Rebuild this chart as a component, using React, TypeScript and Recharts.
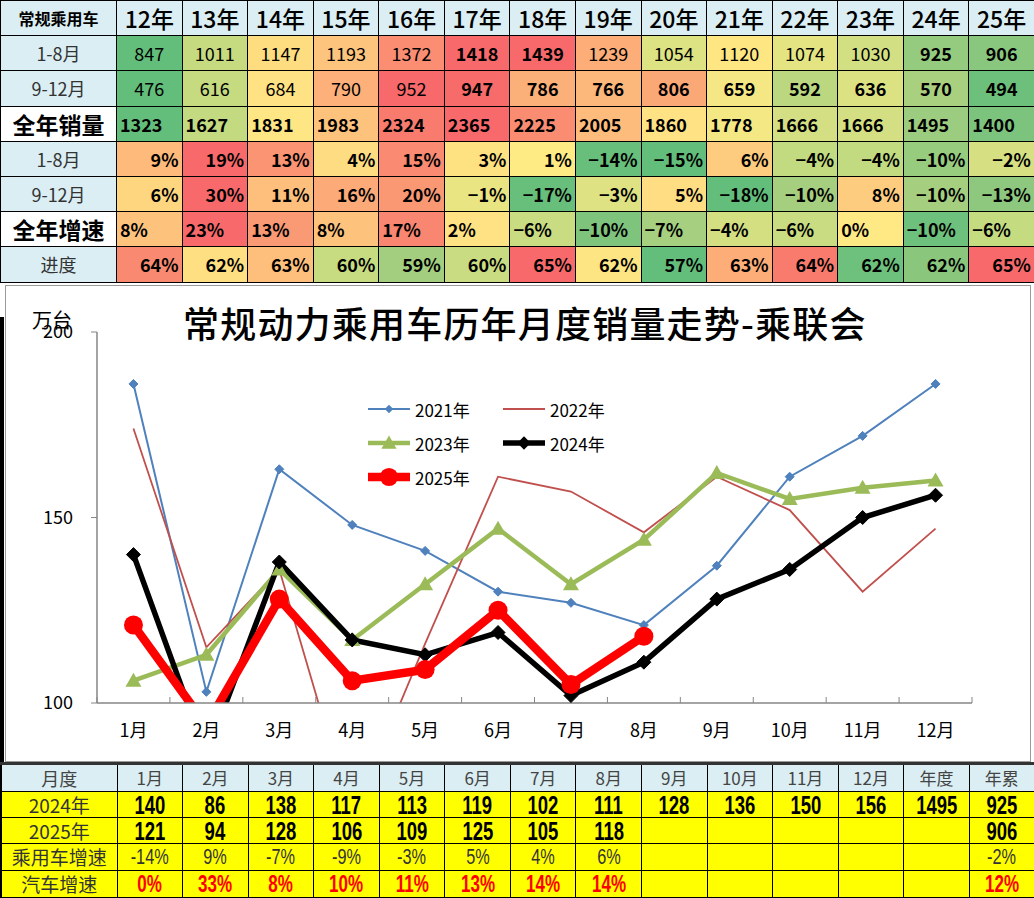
import React from 'react';
import { LineChart, Line, XAxis, YAxis, Legend } from 'recharts';

// ---- top summary table ----
const years = ['12年', '13年', '14年', '15年', '16年', '17年', '18年', '19年', '20年', '21年', '22年', '23年', '24年', '25年'];
const sales18 = [847, 1011, 1147, 1193, 1372, 1418, 1439, 1239, 1054, 1120, 1074, 1030, 925, 906];
const sales912 = [476, 616, 684, 790, 952, 947, 786, 766, 806, 659, 592, 636, 570, 494];
const salesYear = [1323, 1627, 1831, 1983, 2324, 2365, 2225, 2005, 1860, 1778, 1666, 1666, 1495, 1400];
const growth18 = [9, 19, 13, 4, 15, 3, 1, -14, -15, 6, -4, -4, -10, -2];
const growth912 = [6, 30, 11, 16, 20, -1, -17, -3, 5, -18, -10, 8, -10, -13];
const growthYear = [8, 23, 13, 8, 17, 2, -6, -10, -7, -4, -6, 0, -10, -6];
const progress = [64, 62, 63, 60, 59, 60, 65, 62, 57, 63, 64, 62, 62, 65];

// heat-map fills
const fill18 = ['#63BE7B', '#C6DB80', '#FEDD81', '#FDC47D', '#FA8D72', '#F8696B', '#F8696B', '#FCAD78', '#DDE283', '#FEE783', '#E4E483', '#D2DF82', '#95CB7E', '#88C77D'];
const fill912 = ['#63BE7B', '#C6DB80', '#FFE283', '#FDB079', '#F8696B', '#F86B6B', '#FCB079', '#FCB77A', '#FBA877', '#F5E884', '#BBD880', '#DCE182', '#A9D07F', '#6DC07C'];
const fillYear = ['#63BE7B', '#C4DA80', '#FFE684', '#FDC27C', '#F97B6E', '#F8696B', '#F98C71', '#FDBC7B', '#FFE283', '#F4E884', '#D3DF82', '#D3DF82', '#9CCC7F', '#7CC47D'];
const fillG18 = ['#FDBA7A', '#F8696B', '#FA9473', '#FEDC81', '#FA8A71', '#FEE282', '#FFEB84', '#68BF7B', '#63BE7B', '#FDCC7E', '#C2DA80', '#C2DA80', '#97CB7E', '#D6E082'];
const fillG912 = ['#FED680', '#F8696B', '#FDBF7B', '#FCAA78', '#FB9874', '#E9E583', '#67BF7B', '#DEE282', '#FFDD82', '#63BE7B', '#A5CF7F', '#FECC7E', '#A5CF7F', '#8EC87E'];
const fillGYear = ['#FDC37D', '#F8696B', '#FA9A74', '#FDC37D', '#F98670', '#FFE283', '#C9DC81', '#7EC47D', '#A6CF7F', '#D4DF82', '#C9DC81', '#FFE984', '#6EC17C', '#C4DB80'];
const fillProg = ['#F98A71', '#FEDF82', '#FDBF7B', '#C7DB80', '#A4CE7F', '#C9DC81', '#F8696B', '#FEE583', '#63BE7B', '#FCAD78', '#F97B6E', '#6EC17C', '#8AC77D', '#F8696B'];

// ---- chart ----
const months = ['1月', '2月', '3月', '4月', '5月', '6月', '7月', '8月', '9月', '10月', '11月', '12月'];
const s2021 = [186, 103, 163, 148, 141, 130, 127, 121, 137, 161, 172, 186];
const s2022 = [174, 115, 136, 69, 116, 161, 157, 146, 161, 152, 130, 147];
const s2023 = [106, 113, 136, 117, 132, 147, 132, 144, 162, 155, 158, 160];
const s2024 = [140, 86, 138, 117, 113, 119, 102, 111, 128, 136, 150, 156];
const s2025 = [121, 94, 128, 106, 109, 125, 105, 118];
const yTicks = [100, 150, 200];

// ---- bottom table ----
const monthCols = ['1月', '2月', '3月', '4月', '5月', '6月', '7月', '8月', '9月', '10月', '11月', '12月', '年度', '年累'];
const bt2024 = [140, 86, 138, 117, 113, 119, 102, 111, 128, 136, 150, 156, 1495, 925];
const bt2025 = [121, 94, 128, 106, 109, 125, 105, 118, null, null, null, null, null, 906];
const pvGrowth = [-14, 9, -7, -9, -3, 5, 4, 6, null, null, null, null, null, -2];
const autoGrowth = [0, 33, 8, 10, 11, 13, 14, 14, null, null, null, null, null, 12];

const chartData = months.map((m, i) => ({
  month: m,
  y2021: s2021[i],
  y2022: s2022[i],
  y2023: s2023[i],
  y2024: s2024[i],
  y2025: s2025[i],
}));

const CJK = '"Noto Sans CJK SC", "Noto Sans", sans-serif';
const NARROW = '"Liberation Sans", "Noto Sans CJK SC", sans-serif';

const FIRST_W = 116;
const COL_W = (1034 - FIRST_W) / 14;

const CHART_W = 1026;
const CHART_H = 477;
const MARGIN = { top: 47, right: 59, bottom: 19, left: 22 };
const Y_AXIS_W = 70;
const BAND = (CHART_W - MARGIN.left - MARGIN.right - Y_AXIS_W) / months.length;

const pct = (v: number) => `${v < 0 ? '−' : ''}${Math.abs(v)}%`;

function diamondDot(size: number, fill: string) {
  return (p: any) => {
    const { cx, cy, index } = p;
    if (cx == null || cy == null) return <g key={`d${index}`} />;
    return (
      <path
        key={`d${index}`}
        d={`M${cx},${cy - size}L${cx + size},${cy}L${cx},${cy + size}L${cx - size},${cy}Z`}
        fill={fill}
        stroke={fill}
        strokeWidth={1}
      />
    );
  };
}

function triangleDot(size: number, fill: string) {
  return (p: any) => {
    const { cx, cy, index } = p;
    if (cx == null || cy == null) return <g key={`t${index}`} />;
    return (
      <path
        key={`t${index}`}
        d={`M${cx},${cy - size}L${cx + size},${cy + size * 0.75}L${cx - size},${cy + size * 0.75}Z`}
        fill={fill}
      />
    );
  };
}

function circleDot(r: number, fill: string) {
  return (p: any) => {
    const { cx, cy, index } = p;
    if (cx == null || cy == null) return <g key={`c${index}`} />;
    return <circle key={`c${index}`} cx={cx} cy={cy} r={r} fill={fill} />;
  };
}

const series = [
  { key: 'y2021', name: '2021年', color: '#4F81BD', width: 2, marker: 'diamond', size: 4.5 },
  { key: 'y2022', name: '2022年', color: '#C0504D', width: 1.8, marker: 'none', size: 0 },
  { key: 'y2023', name: '2023年', color: '#9BBB59', width: 4.5, marker: 'triangle', size: 8 },
  { key: 'y2024', name: '2024年', color: '#000000', width: 5.5, marker: 'diamond', size: 7 },
  { key: 'y2025', name: '2025年', color: '#FF0000', width: 8.5, marker: 'circle', size: 9.5 },
];

function makeDot(s: (typeof series)[number]) {
  if (s.marker === 'diamond') return diamondDot(s.size, s.color);
  if (s.marker === 'triangle') return triangleDot(s.size, s.color);
  if (s.marker === 'circle') return circleDot(s.size, s.color);
  return false;
}

function LegendIcon({ s }: { s: (typeof series)[number] }) {
  const cx = 21;
  const cy = 10;
  const k = s.size * 0.95;
  return (
    <svg width={42} height={20} style={{ display: 'block' }}>
      <line x1={0} y1={cy} x2={42} y2={cy} stroke={s.color} strokeWidth={s.width} />
      {s.marker === 'diamond' && (
        <path d={`M${cx},${cy - k}L${cx + k},${cy}L${cx},${cy + k}L${cx - k},${cy}Z`} fill={s.color} />
      )}
      {s.marker === 'triangle' && (
        <path d={`M${cx},${cy - k}L${cx + k},${cy + k * 0.75}L${cx - k},${cy + k * 0.75}Z`} fill={s.color} />
      )}
      {s.marker === 'circle' && <circle cx={cx} cy={cy} r={k} fill={s.color} />}
    </svg>
  );
}

function LegendBox(props: any) {
  const items = (props.payload || []) as any[];
  return (
    <div style={{ display: 'grid', gridTemplateColumns: '135px 135px', rowGap: 14, fontFamily: CJK }}>
      {items.map((it) => {
        const s = series.find((x) => x.key === it.dataKey)!;
        return (
          <div key={s.key} style={{ display: 'flex', alignItems: 'center', height: 20 }}>
            <LegendIcon s={s} />
            <span style={{ marginLeft: 5, fontSize: 17, color: '#000' }}>{s.name}</span>
          </div>
        );
      })}
    </div>
  );
}

function MonthTick(props: any) {
  const { x, y, payload, index } = props;
  const axisY = y - 8;
  return (
    <g>
      <line x1={x - BAND / 2} y1={axisY} x2={x - BAND / 2} y2={axisY - 6} stroke="#868686" />
      {index === months.length - 1 && (
        <line x1={x + BAND / 2} y1={axisY} x2={x + BAND / 2} y2={axisY - 6} stroke="#868686" />
      )}
      <text x={x} y={axisY + 34} textAnchor="middle" fontSize={18} fill="#000" fontFamily={CJK}>
        {payload.value}
      </text>
    </g>
  );
}

const border = '1px solid #000';

// condensed look for the bottom table figures
function Narrow({ children, scale = 0.74 }: { children: React.ReactNode; scale?: number }) {
  return (
    <span style={{ display: 'inline-block', transform: `scaleX(${scale})`, transformOrigin: 'center' }}>{children}</span>
  );
}

function TopTable() {
  const rows = [
    { label: '1-8月', vals: sales18.map(String), fills: fill18, align: 'center', labelBig: false, bold: (i: number) => i === 5 || i === 6 || i >= 12 },
    { label: '9-12月', vals: sales912.map(String), fills: fill912, align: 'center', labelBig: false, bold: (i: number) => i >= 5 },
    { label: '全年销量', vals: salesYear.map(String), fills: fillYear, align: 'left', labelBig: true, bold: () => true },
    { label: '1-8月', vals: growth18.map(pct), fills: fillG18, align: 'right', labelBig: false, bold: () => true },
    { label: '9-12月', vals: growth912.map(pct), fills: fillG912, align: 'right', labelBig: false, bold: () => true },
    { label: '全年增速', vals: growthYear.map(pct), fills: fillGYear, align: 'left', labelBig: true, bold: () => true },
    { label: '进度', vals: progress.map((v) => `${v}%`), fills: fillProg, align: 'right', labelBig: false, bold: () => true },
  ];
  const rowH = 35.2;
  return (
    <table
      style={{
        position: 'absolute',
        left: 0,
        top: 0,
        width: 1034,
        borderCollapse: 'collapse',
        tableLayout: 'fixed',
        fontFamily: CJK,
      }}
    >
      <colgroup>
        <col style={{ width: FIRST_W }} />
        {years.map((y) => (
          <col key={y} style={{ width: COL_W }} />
        ))}
      </colgroup>
      <tbody>
        <tr style={{ height: rowH }}>
          <td style={{ border, background: '#DAEEF3', textAlign: 'center', fontSize: 16, fontWeight: 700, padding: 0 }}>
            常规乘用车
          </td>
          {years.map((y) => (
            <td key={y} style={{ border, background: '#DAEEF3', textAlign: 'center', fontSize: 23, fontWeight: 500, padding: 0 }}>
              {y}
            </td>
          ))}
        </tr>
        {rows.map((r, ri) => (
          <tr key={ri} style={{ height: rowH }}>
            <td
              style={{
                border,
                background: r.labelBig ? '#FFFFFF' : '#DAEEF3',
                textAlign: 'center',
                fontSize: r.labelBig ? 23 : 18,
                fontWeight: r.labelBig ? 700 : 400,
                color: r.labelBig ? '#000' : '#333',
                padding: 0,
                whiteSpace: 'nowrap',
              }}
            >
              {r.label}
            </td>
            {r.vals.map((v, i) => (
              <td
                key={i}
                style={{
                  border,
                  background: r.fills[i],
                  textAlign: r.align as any,
                  fontSize: 18,
                  fontWeight: r.bold(i) ? 700 : 400,
                  color: '#000',
                  padding: r.align === 'center' ? 0 : '0 3px',
                  whiteSpace: 'nowrap',
                }}
              >
                {v}
              </td>
            ))}
          </tr>
        ))}
      </tbody>
    </table>
  );
}

function BottomTable() {
  const fmt = (v: number | null) => (v == null ? '' : String(v));
  const fmtPct = (v: number | null) => (v == null ? '' : `${v}%`);
  const rows = [
    { label: '2024年', vals: bt2024.map(fmt), color: '#000', weight: 700, size: 25, h: 26 },
    { label: '2025年', vals: bt2025.map(fmt), color: '#000', weight: 700, size: 25, h: 26 },
    { label: '乘用车增速', vals: pvGrowth.map(fmtPct), color: '#333', weight: 400, size: 22, h: 27 },
    { label: '汽车增速', vals: autoGrowth.map(fmtPct), color: '#FF0000', weight: 700, size: 23, h: 27 },
  ];
  const cell = { border, padding: 0, lineHeight: '20px', overflow: 'hidden', whiteSpace: 'nowrap' as const };
  return (
    <table
      style={{
        position: 'absolute',
        left: 0,
        top: 762,
        width: 1034,
        height: 136,
        borderCollapse: 'collapse',
        tableLayout: 'fixed',
        fontFamily: NARROW,
        borderTop: '3px solid #333',
        borderLeft: '2px solid #000',
        borderRight: '2px solid #000',
        borderBottom: '2px solid #000',
      }}
    >
      <colgroup>
        <col style={{ width: FIRST_W }} />
        {monthCols.map((m) => (
          <col key={m} style={{ width: COL_W }} />
        ))}
      </colgroup>
      <tbody>
        <tr style={{ height: 28 }}>
          <td style={{ ...cell, background: '#DAEEF3', textAlign: 'center', fontSize: 18, color: '#444', fontFamily: CJK }}>
            月度
          </td>
          {monthCols.map((m) => (
            <td key={m} style={{ ...cell, background: '#DAEEF3', textAlign: 'center', fontSize: 17, color: '#444', fontFamily: CJK }}>
              {m}
            </td>
          ))}
        </tr>
        {rows.map((r, ri) => (
          <tr key={ri} style={{ height: r.h }}>
            <td
              style={{
                ...cell,
                background: '#FFFF00',
                textAlign: 'center',
                fontSize: 19,
                color: '#333',
                fontFamily: CJK,
              }}
            >
              {r.label}
            </td>
            {r.vals.map((v, i) => (
              <td
                key={i}
                style={{
                  ...cell,
                  background: '#FFFF00',
                  textAlign: 'center',
                  fontSize: r.size,
                  fontWeight: r.weight,
                  color: r.color,
                }}
              >
                {v && <Narrow>{v}</Narrow>}
              </td>
            ))}
          </tr>
        ))}
      </tbody>
    </table>
  );
}

export default function App() {
  return (
    <div style={{ position: 'absolute', left: 0, top: 0, width: 1034, height: 898, background: '#fff', overflow: 'hidden' }}>
      <TopTable />

      {/* chart frame */}
      <div
        style={{
          position: 'absolute',
          left: 5,
          top: 285,
          width: CHART_W,
          height: CHART_H,
          border: '1px solid #9A9A9A',
          boxSizing: 'border-box',
          background: '#fff',
        }}
      />
      <div style={{ position: 'absolute', left: 0, top: 317, width: 4, height: 445, background: '#000' }} />

      <div style={{ position: 'absolute', left: 5, top: 285 }}>
        <LineChart width={CHART_W} height={CHART_H} data={chartData} margin={MARGIN}>
          <XAxis
            dataKey="month"
            scale="band"
            axisLine={{ stroke: '#868686', strokeWidth: 1.5 }}
            tickLine={false}
            tickSize={0}
            tickMargin={8}
            height={40}
            interval={0}
            tick={<MonthTick />}
          />
          <YAxis
            domain={[100, 200]}
            ticks={yTicks}
            allowDataOverflow
            width={Y_AXIS_W}
            axisLine={{ stroke: '#868686', strokeWidth: 1.5 }}
            tickLine={{ stroke: '#868686' }}
            tickSize={6}
            tickMargin={18}
            tick={{ fontSize: 18, fill: '#000', fontFamily: CJK }}
          />
          <Legend
            layout="vertical"
            verticalAlign="middle"
            align="center"
            content={<LegendBox />}
            wrapperStyle={{ left: 363, top: 114, width: 300, height: 110 }}
          />
          {series.map((s) => (
            <Line
              key={s.key}
              type="linear"
              dataKey={s.key}
              name={s.name}
              stroke={s.color}
              strokeWidth={s.width}
              dot={makeDot(s) as any}
              activeDot={false}
              connectNulls={false}
              isAnimationActive={false}
            />
          ))}
        </LineChart>
      </div>

      <div
        style={{
          position: 'absolute',
          left: 183,
          top: 296,
          fontSize: 36,
          fontWeight: 500,
          letterSpacing: 1.2,
          fontFamily: CJK,
          whiteSpace: 'nowrap',
          color: '#000',
        }}
      >
        常规动力乘用车历年月度销量走势-乘联会
      </div>
      <div style={{ position: 'absolute', left: 32, top: 305, fontSize: 20, fontFamily: CJK, color: '#000' }}>万台</div>

      <BottomTable />
    </div>
  );
}
